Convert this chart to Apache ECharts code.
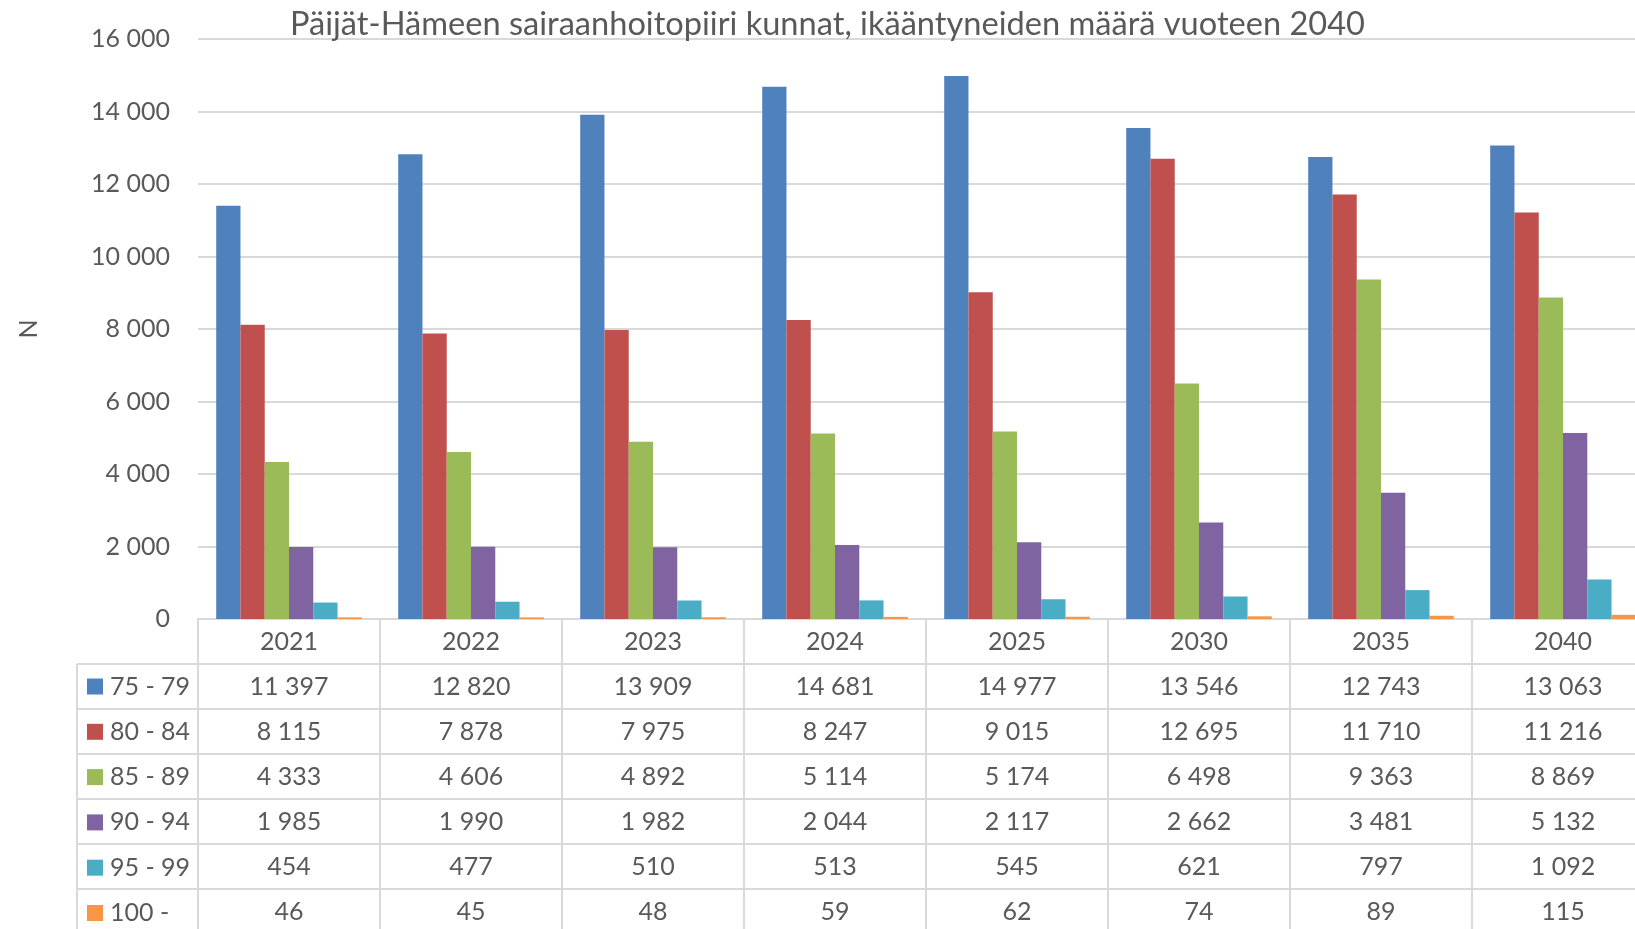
<!DOCTYPE html>
<html>
<head>
<meta charset="utf-8">
<script src="https://cdn.jsdelivr.net/npm/echarts@6/dist/echarts.min.js"></script>
<style>
html,body{margin:0;padding:0;background:#fff;overflow:hidden;width:1635px;height:929px;}
#chart{width:1654px;height:929px;}
</style>
</head>
<body>
<div id="chart"></div>
<script>
// ---- data ----
const titleText = 'Päijät-Hämeen sairaanhoitopiiri kunnat, ikääntyneiden määrä vuoteen 2040';
const categories = ['2021','2022','2023','2024','2025','2030','2035','2040'];
const seriesNames = ['75 - 79','80 - 84','85 - 89','90 - 94','95 - 99','100 -'];
const age75_79 = [11397,12820,13909,14681,14977,13546,12743,13063];
const age80_84 = [8115,7878,7975,8247,9015,12695,11710,11216];
const age85_89 = [4333,4606,4892,5114,5174,6498,9363,8869];
const age90_94 = [1985,1990,1982,2044,2117,2662,3481,5132];
const age95_99 = [454,477,510,513,545,621,797,1092];
const age100 = [46,45,48,59,62,74,89,115];
const yMin = 0, yMax = 16000, yStep = 2000;
const yAxisName = 'N';

// ---- style / layout ----
const colors = ['#4f81bd','#c0504d','#9bbb59','#8064a2','#4bacc6','#f79646'];
const FONT = 'Lato';
const TXT = '#595959';
const LINE = '#d9d9d9';
const H = 929;
const GRID_LEFT = 198, GRID_TOP = 39, AXIS_Y = 619, GRID_W = 1456;
const ROW_H = 45;
const TABLE_LEFT = 77;
const FS = 25;

const allSeries = [age75_79, age80_84, age85_89, age90_94, age95_99, age100];
const fmt = v => String(v).replace(/\B(?=(\d{3})+(?!\d))/g, ' ');

const chart = echarts.init(document.getElementById('chart'), null, {renderer:'canvas'});

const xAxes = [];
// header axis with years
xAxes.push({
  type:'category', data:categories, gridIndex:0, position:'bottom', offset:0,
  axisLine:{show:true, lineStyle:{color:LINE, width:2}},
  axisTick:{show:true, interval:0, alignWithLabel:false, length:ROW_H, lineStyle:{color:LINE, width:2}},
  axisLabel:{show:true, interval:0, margin:10, fontFamily:FONT, fontSize:FS, color:TXT},
  splitLine:{show:false}
});
allSeries.forEach((arr, k) => {
  xAxes.push({
    type:'category', data:categories, gridIndex:0, position:'bottom', offset:ROW_H*(k+1),
    axisLine:{show:true, lineStyle:{color:LINE, width:2}},
    axisTick:{show:true, interval:0, alignWithLabel:false, length:ROW_H, lineStyle:{color:LINE, width:2}},
    axisLabel:{show:true, interval:0, margin:10, fontFamily:FONT, fontSize:FS, color:TXT,
      formatter:(val, idx) => fmt(arr[idx])},
    splitLine:{show:false}
  });
});

// legend-column borders
const graphics = [];
for (let k = 1; k <= 6; k++) {
  const y = AXIS_Y + ROW_H * k;
  graphics.push({type:'line', shape:{x1:TABLE_LEFT, y1:y, x2:GRID_LEFT, y2:y}, style:{stroke:LINE, lineWidth:2}, silent:true});
}
graphics.push({type:'line', shape:{x1:TABLE_LEFT, y1:AXIS_Y+ROW_H, x2:TABLE_LEFT, y2:H+10}, style:{stroke:LINE, lineWidth:2}, silent:true});

const option = {
  animation:false,
  color:colors,
  title:{
    text:titleText, left:290, top:8, padding:0,
    textStyle:{fontFamily:FONT, fontSize:32.6, fontWeight:'normal', color:TXT}
  },
  legend:{
    data:seriesNames, orient:'vertical', left:87, top:AXIS_Y+ROW_H+10, padding:0,
    itemWidth:16, itemHeight:16, itemGap:20.3, icon:'rect',
    textStyle:{fontFamily:FONT, fontSize:FS, color:TXT, lineHeight:24, padding:[0,0,0,2]},
    selectedMode:false
  },
  grid:{left:GRID_LEFT, top:GRID_TOP, width:GRID_W, height:AXIS_Y-GRID_TOP, containLabel:false},
  xAxis:xAxes,
  yAxis:{
    type:'value', min:yMin, max:yMax, interval:yStep,
    name:yAxisName, nameLocation:'middle', nameGap:157, nameRotate:90,
    nameTextStyle:{fontFamily:FONT, fontSize:FS, color:TXT},
    axisLine:{show:false}, axisTick:{show:false},
    axisLabel:{margin:28, fontFamily:FONT, fontSize:FS, color:TXT, formatter:v => fmt(v)},
    splitLine:{show:true, lineStyle:{color:LINE, width:2}}
  },
  series: allSeries.map((arr, k) => ({
    name:seriesNames[k], type:'bar', data:arr, xAxisIndex:0, yAxisIndex:0,
    barGap:'0%', barCategoryGap:'20%',
    itemStyle:{color:colors[k]}
  })),
  graphic:graphics
};
chart.setOption(option);
</script>
</body>
</html>
